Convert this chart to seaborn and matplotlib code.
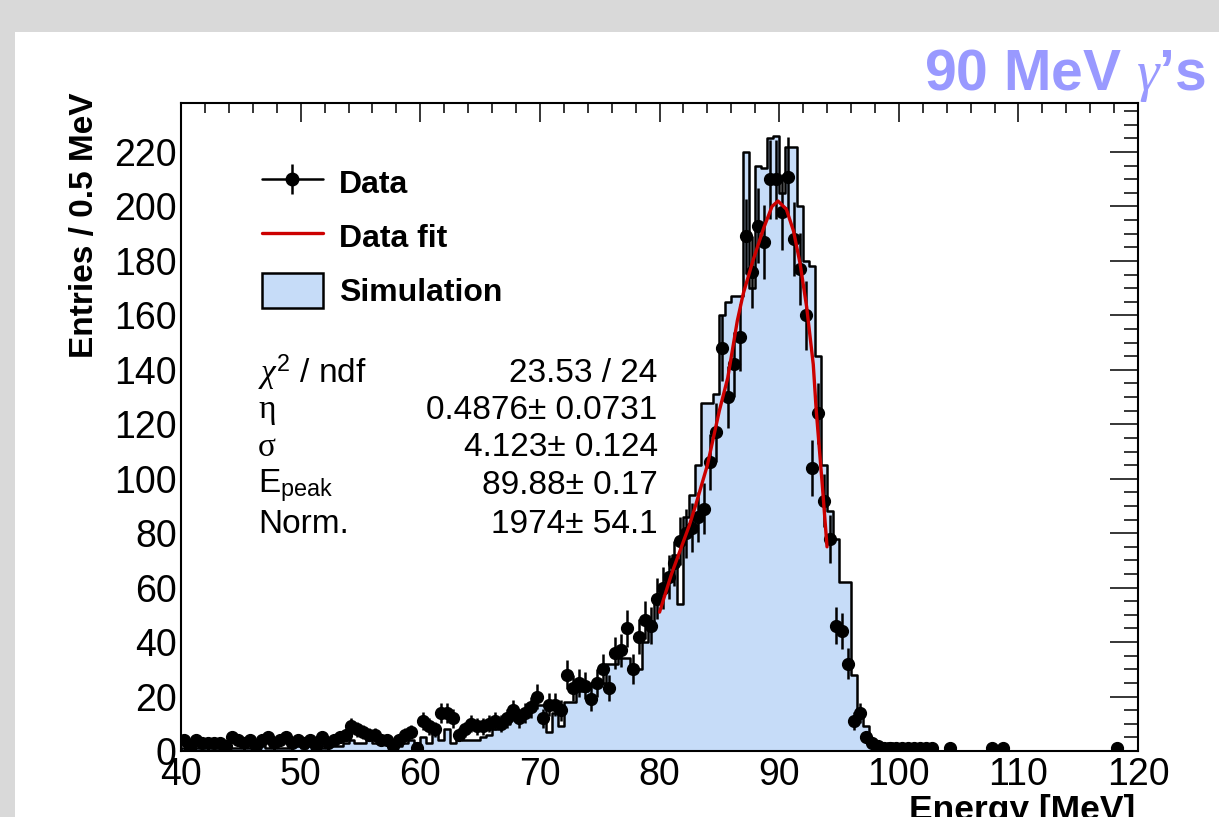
import numpy as np
import pandas as pd
import matplotlib
matplotlib.use("Agg")
import matplotlib.pyplot as plt
import seaborn as sns
from matplotlib.lines import Line2D
from matplotlib.patches import Patch, Rectangle
from matplotlib.legend_handler import HandlerTuple
from matplotlib.ticker import MultipleLocator

sns.set_theme(style="white")
plt.rcParams['font.family'] = ['Liberation Sans', 'DejaVu Sans']
plt.rcParams['text.color'] = 'black'
plt.rcParams['axes.labelcolor'] = 'black'
plt.rcParams['mathtext.fontset'] = 'custom'
plt.rcParams['mathtext.rm'] = 'Liberation Sans'
plt.rcParams['mathtext.it'] = 'Liberation Serif:italic'
plt.rcParams['mathtext.bf'] = 'Liberation Sans:bold'

# 0.5 MeV bins from 40 to 120 MeV
bin_edges = np.arange(40, 120.01, 0.5)
energy = (bin_edges[:-1] + bin_edges[1:]) / 2

# measured entries per bin (0 = empty bin, no point drawn)
data_counts = [
    4, 1, 4, 3, 3, 3, 3, 2, 5, 4,            # 40-45
    3, 4, 2, 4, 5, 3, 4, 5, 3, 4,            # 45-50
    3, 4, 2, 5, 3, 4, 5, 6, 9, 8,            # 50-55
    7, 6, 6, 4, 4, 2, 4, 6, 7, 1,            # 55-60
    11, 9, 8, 14, 14, 12, 6, 8, 10, 9,       # 60-65
    9, 10, 11, 10, 12, 15, 12, 14, 16, 20,   # 65-70
    12, 17, 17, 15, 28, 23, 25, 24, 19, 25,  # 70-75
    30, 23, 36, 37, 45, 30, 42, 48, 46, 56,  # 75-80
    60, 64, 69, 77, 80, 82, 86, 89, 106, 117,        # 80-85
    148, 130, 142, 152, 189, 176, 193, 187, 210, 210,  # 85-90
    198, 211, 188, 177, 160, 104, 124, 92, 78, 46,     # 90-95
    44, 32, 11, 14, 5, 3, 2, 1, 1, 1,        # 95-100
    1, 1, 1, 1, 1, 1, 0, 0, 1, 0,            # 100-105
    0, 0, 0, 0, 0, 1, 0, 1, 0, 0,            # 105-110
    0, 0, 0, 0, 0, 0, 0, 0, 0, 0,            # 110-115
    0, 0, 0, 0, 0, 0, 1, 0, 0, 0,            # 115-120
]

# simulated spectrum per bin
sim_counts = [
    1, 2, 1, 1, 2, 1, 1, 2, 1, 1,
    2, 1, 2, 2, 1, 2, 1, 1, 2, 2,
    1, 2, 2, 1, 3, 2, 2, 3, 4, 3,
    3, 5, 3, 4, 3, 3, 2, 3, 4, 3,
    5, 3, 7, 4, 8, 3, 6, 4, 4, 4,
    5, 6, 8, 9, 10, 15, 12, 13, 15, 17,
    17, 7, 14, 9, 18, 18, 22, 22, 24, 25,
    25, 32, 32, 34, 34, 30, 30, 40, 46, 55,
    58, 65, 72, 54, 86, 94, 105, 128, 128, 131,
    160, 165, 167, 167, 220, 170, 215, 214, 225, 226,
    205, 222, 222, 200, 180, 178, 145, 105, 88, 78,
    62, 62, 28, 13, 9, 4, 2, 1, 3, 1,
    1, 1, 2, 0, 1, 0, 0, 0, 0, 0,
    0, 0, 0, 0, 0, 0, 0, 0, 0, 0,
    0, 0, 0, 0, 0, 0, 0, 0, 0, 0,
    0, 0, 0, 0, 0, 0, 0, 0, 0, 0,
]

# fitted curve
fit_energy = [80.0, 81.0, 82.0, 82.5, 83.0, 84.0, 85.0, 85.7, 86.5, 87.0,
              87.8, 88.7, 89.4, 89.9, 90.6, 91.2, 91.75, 92.3, 92.85, 93.1,
              93.6, 94.0]
fit_values = [51, 65, 77, 83, 90, 105, 125, 137, 158, 168,
              180, 192, 200, 202, 199, 191, 179, 163, 142, 125,
              98, 75]

stat_names = [r"$\chi^{2}$ / ndf", "\u03b7", "\u03c3", r"E$_{\rm peak}$", "Norm."]
stat_values = ["23.53 / 24", "0.4876\u00b1 0.0731", "4.123\u00b1 0.124",
               "89.88\u00b1 0.17", "1974\u00b1 54.1"]
stat_rows = [0.583, 0.526, 0.468, 0.410, 0.350]
stat_fonts = ['Liberation Sans', 'Liberation Serif', 'Liberation Serif',
              'Liberation Sans', 'Liberation Sans']

sim_color = '#c6dcf8'
fit_color = '#cc0000'

fig = plt.figure(figsize=(12.19, 8.17), dpi=100, facecolor='#d9d9d9')
fig.patches.append(Rectangle((15 / 1219, 0), 1, 1 - 32 / 817, transform=fig.transFigure,
                             facecolor='white', edgecolor='none', zorder=-10))
ax = fig.add_axes([0.1485, 0.0808, 0.7851, 0.7931])
ax.set_facecolor('white')

sim_df = pd.DataFrame({'energy': energy, 'entries': sim_counts})
sns.histplot(data=sim_df, x='energy', weights='entries', bins=list(bin_edges),
             element='step', fill=True, facecolor=sim_color, edgecolor='black',
             linewidth=1.8, alpha=1, ax=ax, zorder=1)

data_df = pd.DataFrame({'energy': energy, 'entries': data_counts})
data_df = data_df[data_df['entries'] > 0]
ax.errorbar(data_df['energy'], data_df['entries'], yerr=np.sqrt(data_df['entries']),
            fmt='o', color='black', ms=8.5, elinewidth=1.8, capsize=0, zorder=3)

sns.lineplot(x=fit_energy, y=fit_values, color=fit_color, linewidth=2.4,
             sort=False, estimator=None, ax=ax, zorder=4)

ax.set_xlim(40, 120)
ax.set_ylim(0, 238)
ax.xaxis.set_major_locator(MultipleLocator(10))
ax.xaxis.set_minor_locator(MultipleLocator(2))
ax.yaxis.set_major_locator(MultipleLocator(20))
ax.yaxis.set_minor_locator(MultipleLocator(5))
ax.tick_params(which='both', direction='in', top=True, right=True,
               labelsize=27, width=1.1, color='black', labelcolor='black')
ax.tick_params(axis='x', which='major', length=13.5, pad=4)
ax.tick_params(axis='x', which='minor', length=7)
ax.tick_params(axis='y', which='major', length=20, pad=3)
ax.tick_params(axis='y', which='minor', length=10)
for sp in ax.spines.values():
    sp.set_color('black')
    sp.set_linewidth(1.5)

ax.set_xlabel('Energy [MeV]', fontsize=25.5, fontweight='bold', loc='right')
ax.xaxis.set_label_coords(0.997, -0.066)
ax.set_ylabel('Entries / 0.5 MeV', fontsize=24, fontweight='bold', loc='top')
ax.yaxis.set_label_coords(-0.085, 1.017)

# legend
h_data = (Line2D([], [], color='black', lw=1.8),
          Line2D([], [], marker='|', color='black', ms=22, mew=1.8, ls='none'),
          Line2D([], [], marker='o', color='black', ms=9, ls='none'))
h_fit = Line2D([], [], color=fit_color, lw=2.4)
h_sim = Patch(facecolor=sim_color, edgecolor='black', lw=1.8)
ax.legend([h_data, h_fit, h_sim], ['Data', 'Data fit', 'Simulation'],
          handler_map={tuple: HandlerTuple(ndivide=1)},
          loc='upper left', bbox_to_anchor=(0.0846, 0.905), frameon=False,
          prop={'weight': 'bold', 'size': 23}, handlelength=1.9, handleheight=1.3,
          labelspacing=0.6, handletextpad=0.5, borderaxespad=0, borderpad=0)

# fit statistics box
for name, value, yy, fam in zip(stat_names, stat_values, stat_rows, stat_fonts):
    ax.text(0.0805, yy, name, transform=ax.transAxes, fontsize=24, va='center',
            ha='left', family=fam)
    ax.text(0.498, yy, value, transform=ax.transAxes, fontsize=24, va='center', ha='right')

fig.text(0.989, 1 - 76 / 817, "90 MeV $\\gamma$\u2019s", color='#9999ff', fontsize=41,
         fontweight='bold', ha='right', va='center')

fig.savefig('out.png', dpi=100, facecolor=fig.get_facecolor())
